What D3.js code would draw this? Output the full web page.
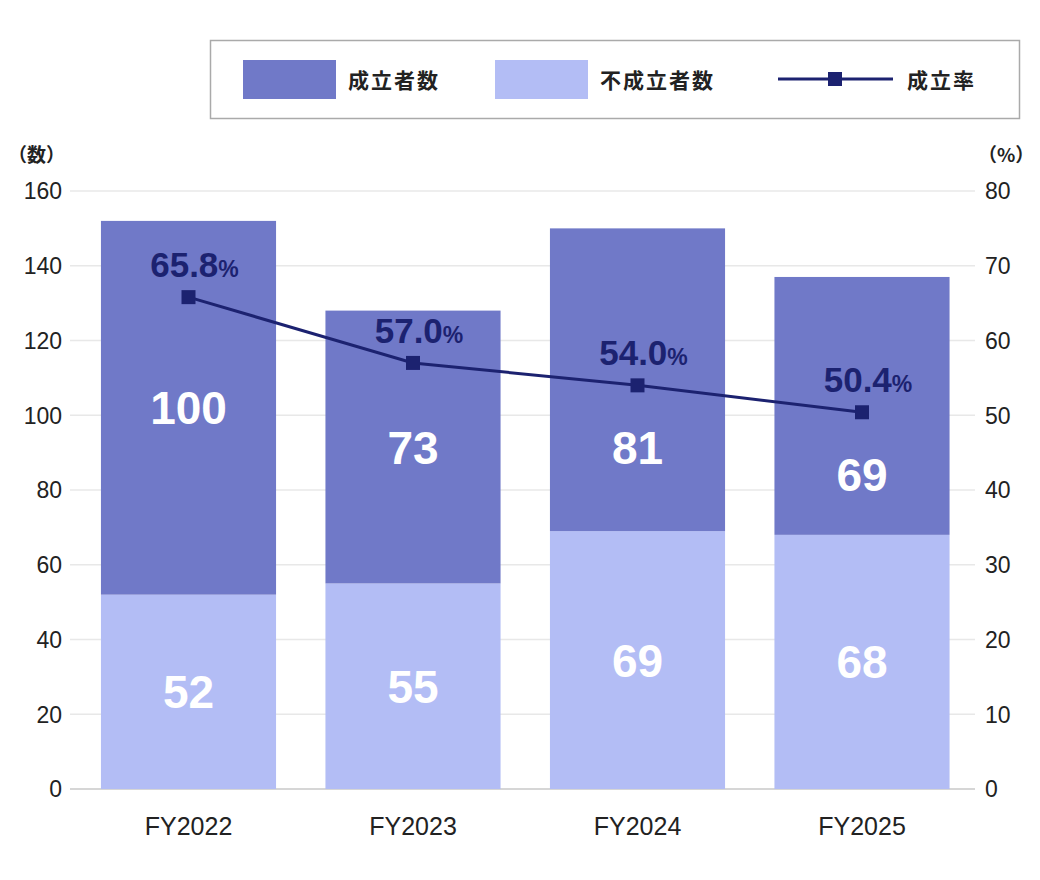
<!DOCTYPE html>
<html><head><meta charset="utf-8">
<script src="https://cdn.jsdelivr.net/npm/d3@7"></script>
<style>body{margin:0;background:#fff;font-family:"Liberation Sans","Noto Sans CJK JP",sans-serif;}</style>
</head><body><div id="chart"></div>
<script>
var years = ['FY2022', 'FY2023', 'FY2024', 'FY2025'];
var failed = [52, 55, 69, 68];
var passed = [100, 73, 81, 69];
var rate = [65.8, 57.0, 54.0, 50.4];
var leftTicks = [0, 20, 40, 60, 80, 100, 120, 140, 160];
var rightTicks = [0, 10, 20, 30, 40, 50, 60, 70, 80];

var colPass = '#7079c8', colFail = '#b3bdf5', colLine = '#1c2270';
var cjk = '"Noto Sans CJK JP",sans-serif';

var svg = d3.select('#chart').append('svg').attr('width', 1040).attr('height', 880);

var x = d3.scaleBand().domain(years).range([76.25, 974.25]).paddingInner(0.22).paddingOuter(0.11);
var y = d3.scaleLinear().domain([0, 160]).range([789, 191]);
var y2 = d3.scaleLinear().domain([0, 80]).range([789, 191]);

// grid
svg.append('g').selectAll('line').data(leftTicks).join('line')
    .attr('x1', 70).attr('x2', 975)
    .attr('y1', d => y(d)).attr('y2', d => y(d))
    .attr('stroke', d => d === 0 ? '#c8c8c8' : '#e8e8e8').attr('stroke-width', 1.5);

// axis labels
svg.append('g').selectAll('text').data(leftTicks).join('text')
    .attr('x', 62).attr('y', d => y(d)).attr('dy', '0.36em')
    .attr('text-anchor', 'end').attr('font-size', 23).attr('fill', '#222')
    .text(d => d);
svg.append('g').selectAll('text').data(rightTicks).join('text')
    .attr('x', 985).attr('y', d => y2(d)).attr('dy', '0.36em')
    .attr('font-size', 23).attr('fill', '#222')
    .text(d => d);
svg.append('text').attr('x', 8).attr('y', 162).attr('font-size', 19).attr('font-weight', 'bold')
    .attr('font-family', cjk).attr('fill', '#222').text('（数）');
svg.append('text').attr('x', 978).attr('y', 162).attr('font-size', 19).attr('font-weight', 'bold')
    .attr('font-family', cjk).attr('fill', '#222').text('（%）');

// x labels
svg.append('g').selectAll('text').data(years).join('text')
    .attr('x', d => x(d) + x.bandwidth() / 2).attr('y', 835)
    .attr('text-anchor', 'middle').attr('font-size', 25).attr('fill', '#222')
    .text(d => d);

// bars
var g = svg.append('g');
g.selectAll('.fail').data(years).join('rect')
    .attr('x', d => x(d)).attr('width', x.bandwidth())
    .attr('y', (d, i) => y(failed[i])).attr('height', (d, i) => y(0) - y(failed[i]))
    .attr('fill', colFail);
g.selectAll('.pass').data(years).join('rect')
    .attr('x', d => x(d)).attr('width', x.bandwidth())
    .attr('y', (d, i) => y(failed[i] + passed[i])).attr('height', (d, i) => y(failed[i]) - y(failed[i] + passed[i]))
    .attr('fill', colPass);

// bar values
g.selectAll('.fv').data(years).join('text')
    .attr('x', d => x(d) + x.bandwidth() / 2).attr('y', (d, i) => y(failed[i] / 2)).attr('dy', '0.36em')
    .attr('text-anchor', 'middle').attr('font-size', 46).attr('font-weight', 'bold').attr('fill', '#fff')
    .text((d, i) => failed[i]);
g.selectAll('.pv').data(years).join('text')
    .attr('x', d => x(d) + x.bandwidth() / 2)
    .attr('y', (d, i) => Math.max(y(failed[i] + passed[i] / 2), y2(rate[i]) + 62)).attr('dy', '0.36em')
    .attr('text-anchor', 'middle').attr('font-size', 46).attr('font-weight', 'bold').attr('fill', '#fff')
    .text((d, i) => passed[i]);

// rate line
var line = d3.line().x((d, i) => x(years[i]) + x.bandwidth() / 2).y(d => y2(d));
svg.append('path').datum(rate).attr('d', line).attr('fill', 'none')
    .attr('stroke', colLine).attr('stroke-width', 3);
svg.append('g').selectAll('rect').data(rate).join('rect')
    .attr('x', (d, i) => x(years[i]) + x.bandwidth() / 2 - 7).attr('y', d => y2(d) - 7)
    .attr('width', 14).attr('height', 14).attr('fill', colLine);
var rl = svg.append('g').selectAll('text').data(rate).join('text')
    .attr('x', (d, i) => x(years[i]) + x.bandwidth() / 2 + 6).attr('y', d => y2(d) - 20)
    .attr('text-anchor', 'middle').attr('font-weight', 'bold').attr('fill', colLine);
rl.append('tspan').attr('font-size', 35).text(d => d.toFixed(1));
rl.append('tspan').attr('font-size', 23).text('%');

// legend
var lg = svg.append('g');
lg.append('rect').attr('x', 210.5).attr('y', 40.5).attr('width', 809).attr('height', 78)
    .attr('fill', '#fff').attr('stroke', '#aaa').attr('stroke-width', 1.5);
lg.append('rect').attr('x', 243).attr('y', 60).attr('width', 93).attr('height', 39).attr('fill', colPass);
lg.append('rect').attr('x', 495).attr('y', 60).attr('width', 93).attr('height', 39).attr('fill', colFail);
lg.append('line').attr('x1', 778).attr('x2', 893).attr('y1', 79).attr('y2', 79).attr('stroke', colLine).attr('stroke-width', 3);
lg.append('rect').attr('x', 828).attr('y', 72).attr('width', 14).attr('height', 14).attr('fill', colLine);
[['成立者数', 348], ['不成立者数', 600], ['成立率', 907]].forEach(function (t) {
    lg.append('text').attr('x', t[1]).attr('y', 80).attr('dy', '0.36em')
        .attr('font-family', cjk).attr('font-size', 21).attr('font-weight', 'bold')
        .attr('letter-spacing', 2).attr('fill', '#222').text(t[0]);
});
</script></body></html>
